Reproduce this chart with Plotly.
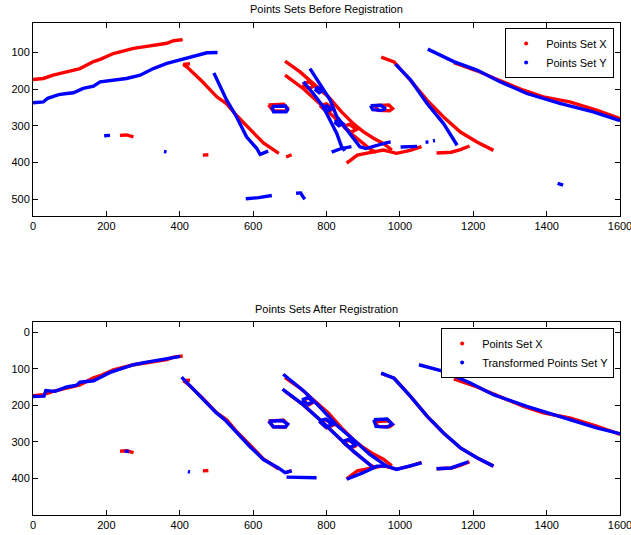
import plotly.graph_objects as go

# ---------------- Points Set X (red, identical in both panels) ----------------
X_top_left = [(0,174),(28,171),(55,162),(92,153),(128,144),(165,125),(183,119),(219,103),(246,95),(274,89),(301,85),(337,80),(365,75),(383,68),(408,65)]
X_diag1 = [(428,131),(410,133),(420,140),(460,178),(501,221),(528,240),(555,272),(591,310),(628,347),(670,375)]
X_blob1 = [(690,385),(705,379)]
X_blob2 = [(237,326),(255,325),(274,330)]
X_dash = [(463,380),(478,379)]
X_diag2 = [(687,124),(728,153),(764,185),(805,221),(841,262),(873,294),(900,316),(928,334),(955,348),(968,357),(978,366)]
X_diag3 = [(687,162),(737,199),(782,240),(828,285),(873,326),(918,363),(935,372)]
X_quad1 = [(642,243),(683,241),(694,252),(688,260),(655,259),(642,243)]
X_quad2 = [(933,245),(970,243),(980,253),(972,259),(940,258),(933,245)]
X_loopA = [(735,188),(750,180),(768,190),(752,199),(735,188)]
X_loopB = [(782,245),(800,240),(818,255),(800,262),(782,245)]
X_loopC = [(846,302),(862,296),(882,310),(865,318),(846,302)]
X_bottom1 = [(855,402),(884,380),(918,373),(955,366),(991,375),(1028,367),(1059,357)]
X_bottom2 = [(1100,374),(1140,372),(1165,365),(1190,355)]
X_diag4 = [(949,113),(984,126),(1029,176),(1074,230),(1119,276),(1165,317),(1210,344),(1255,367)]
X_right = [(1147,128),(1210,150),(1269,175),(1337,203),(1391,221),(1463,235),(1536,257),(1600,280)]

# ---------------- Points Set Y (blue, before registration) ----------------
Y_top_left = [(0,237),(28,235),(40,225),(55,221),(70,215),(92,212),(110,210),(137,198),(165,192),(183,180),(219,175),(255,171),(292,162),(328,144),(365,130),(383,125),(419,114),(455,105),(474,101),(503,100)]
Y_diag1 = [(493,156),(528,230),(555,276),(582,330),(610,362),(619,378),(641,369)]
Y_blob = [(194,327),(210,326)]
Y_dot = [(357,370),(364,371)]
Y_bottom_a = [(580,499),(615,496),(651,490)]
Y_bottom_b = [(717,484),(730,483),(735,492),(741,500)]
Y_quad1 = [(651,247),(688,246),(694,256),(690,262),(656,262),(651,247)]
Y_quad2 = [(920,245),(948,244),(961,254),(950,258),(926,256),(920,245)]
Y_diag2 = [(755,144),(782,185),(810,230),(828,275),(864,321),(891,357),(907,362),(930,355),(957,348),(975,344)]
Y_diag3 = [(737,180),(764,212),(791,248),(810,285),(828,321),(841,357),(850,368)]
Y_tbar = [(814,372),(840,362),(868,357)]
Y_loopA = [(768,200),(778,196),(790,204),(780,210),(768,200)]
Y_loopB = [(790,250),(800,246),(812,254),(802,260),(790,250)]
Y_loopC = [(822,290),(832,286),(844,294),(834,300),(822,290)]
Y_diag4 = [(988,132),(1029,175),(1074,239),(1119,294),(1156,353)]
Y_dash = [(1002,358),(1047,356)]
Y_dot2 = [(1070,345),(1078,344)]
Y_dot3 = [(1090,341),(1096,340)]
Y_far = [(1430,457),(1445,462)]
Y_right = [(1076,91),(1110,107),(1147,125),(1210,148),(1273,180),(1346,212),(1436,239),(1527,262),(1600,286)]

# ---------------- Transformed Points Set Y (blue, after registration) ----------------
TY_top_left = [(0,176),(30,175),(35,160),(60,162),(92,150),(119,145),(128,137),(165,133),(183,124),(210,110),(237,101),(274,89),(310,82),(346,77),(374,71),(401,66)]
TY_diag1 = [(405,123),(455,176),(500,221),(525,242),(555,275),(591,313),(628,349),(669,372),(687,385),(705,380)]
TY_bottom = [(691,397),(730,398),(773,399)]
TY_blob = [(250,326),(262,327)]
TY_dot = [(422,382),(428,383)]
TY_quad1 = [(643,244),(680,242),(694,252),(688,260),(655,259),(643,244)]
TY_quad2 = [(929,240),(965,238),(979,252),(965,260),(935,258),(929,240)]
TY_diag2 = [(682,115),(737,160),(782,205),(828,255),(873,294),(918,335),(964,367)]
TY_diag3 = [(680,156),(737,199),(782,240),(828,285),(873,326),(918,363),(927,372)]
TY_loopA = [(733,186),(748,179),(766,189),(750,197),(733,186)]
TY_loopB = [(780,243),(798,238),(816,253),(798,260),(780,243)]
TY_loopC = [(844,300),(860,294),(880,308),(863,316),(844,300)]
TY_bottom1 = [(855,403),(900,385),(937,367),(964,367),(991,376),(1028,367),(1059,358)]
TY_bottom2 = [(1100,374),(1140,372),(1165,363),(1187,355)]
TY_diag4 = [(949,112),(984,126),(1029,176),(1074,230),(1119,276),(1165,317),(1210,344),(1255,367)]
TY_right = [(1052,89),(1119,107),(1192,139),(1255,171),(1346,203),(1409,223),(1481,244),(1536,262),(1600,278)]

X_set = [X_top_left, X_diag1, X_blob1, X_blob2, X_dash, X_diag2, X_diag3, X_quad1, X_quad2,
         X_loopA, X_loopB, X_loopC, X_bottom1, X_bottom2, X_diag4, X_right]
Y_set = [Y_top_left, Y_diag1, Y_blob, Y_dot, Y_bottom_a, Y_bottom_b, Y_quad1, Y_quad2, Y_diag2,
         Y_diag3, Y_tbar, Y_loopA, Y_loopB, Y_loopC, Y_diag4, Y_dash, Y_dot2, Y_dot3, Y_far, Y_right]
TY_set = [TY_top_left, TY_diag1, TY_bottom, TY_blob, TY_dot, TY_quad1, TY_quad2, TY_diag2, TY_diag3,
          TY_loopA, TY_loopB, TY_loopC, TY_bottom1, TY_bottom2, TY_diag4, TY_right]

x_ticks = [0, 200, 400, 600, 800, 1000, 1200, 1400, 1600]
y_ticks_top = [100, 200, 300, 400, 500]
y_ticks_bot = [0, 100, 200, 300, 400]


def flatten(curves):
    xs, ys = [], []
    for c in curves:
        for p in c:
            xs.append(p[0]); ys.append(p[1])
        xs.append(None); ys.append(None)
    return xs, ys


RED = "#ff0000"
BLUE = "#0000ff"
LW = 3.4
FONT = "Liberation Sans, Arial, sans-serif"

fig = go.Figure()

def add_set(curves, color, xa, ya):
    xs, ys = flatten(curves)
    fig.add_trace(go.Scatter(x=xs, y=ys, mode="lines", xaxis=xa, yaxis=ya,
                             line=dict(color=color, width=LW), showlegend=False,
                             hoverinfo="skip", connectgaps=False))

add_set(X_set, RED, "x", "y")
add_set(Y_set, BLUE, "x", "y")
add_set(X_set, RED, "x2", "y2")
add_set(TY_set, BLUE, "x2", "y2")

# legend entries
fig.add_trace(go.Scatter(x=[None], y=[None], mode="markers", name="Points Set X",
                         marker=dict(color=RED, size=4), xaxis="x", yaxis="y", legend="legend"))
fig.add_trace(go.Scatter(x=[None], y=[None], mode="markers", name="Points Set Y",
                         marker=dict(color=BLUE, size=4), xaxis="x", yaxis="y", legend="legend"))
fig.add_trace(go.Scatter(x=[None], y=[None], mode="markers", name="Points Set X",
                         marker=dict(color=RED, size=4), xaxis="x2", yaxis="y2", legend="legend2"))
fig.add_trace(go.Scatter(x=[None], y=[None], mode="markers", name="Transformed Points Set Y",
                         marker=dict(color=BLUE, size=4), xaxis="x2", yaxis="y2", legend="legend2"))

axis_common = dict(showline=True, linecolor="black", linewidth=1, mirror="ticks",
                   ticks="inside", ticklen=5, tickcolor="black", showgrid=False, zeroline=False,
                   automargin=False, ticklabeloverflow="allow",
                   tickfont=dict(family=FONT, size=11, color="black"))

PLOT_H = 495.0
fig.update_layout(
    template="none",
    width=631, height=535,
    margin=dict(l=33, r=11, t=20, b=20, autoexpand=False),
    paper_bgcolor="white", plot_bgcolor="white",
    font=dict(family=FONT, size=11, color="black"),
    hovermode=False,
    xaxis=dict(domain=[0, 1], anchor="y", range=[0, 1600], tickvals=x_ticks, **axis_common),
    yaxis=dict(domain=[0.604, 0.9945], anchor="x", range=[546, 19], tickvals=y_ticks_top, **axis_common),
    xaxis2=dict(domain=[0, 1], anchor="y2", range=[0, 1600], tickvals=x_ticks, **axis_common),
    yaxis2=dict(domain=[0, 0.389], anchor="x2", range=[501, -27], tickvals=y_ticks_bot, **axis_common),
    legend=dict(x=0.99, y=0.984, xanchor="right", yanchor="top", bgcolor="white",
                bordercolor="black", borderwidth=1, font=dict(family=FONT, size=11),
                tracegroupgap=0, itemsizing="trace"),
    legend2=dict(x=0.99, y=0.378, xanchor="right", yanchor="top", bgcolor="white",
                 bordercolor="black", borderwidth=1, font=dict(family=FONT, size=11),
                 tracegroupgap=0, itemsizing="trace"),
    annotations=[
        dict(text="Points Sets Before Registration", x=0.5, y=1.0 + 11 / PLOT_H, xref="paper", yref="paper",
             xanchor="center", yanchor="middle", showarrow=False, font=dict(family=FONT, size=11)),
        dict(text="Points Sets After Registration", x=0.5, y=(515 - 309) / PLOT_H, xref="paper", yref="paper",
             xanchor="center", yanchor="middle", showarrow=False, font=dict(family=FONT, size=11)),
    ],
)

# remove the browser's default 8px page margin so the figure sits at the window's corner
fig.write_html("out.html", config={"displayModeBar": False},
               post_script="document.body.style.margin='0px';")
